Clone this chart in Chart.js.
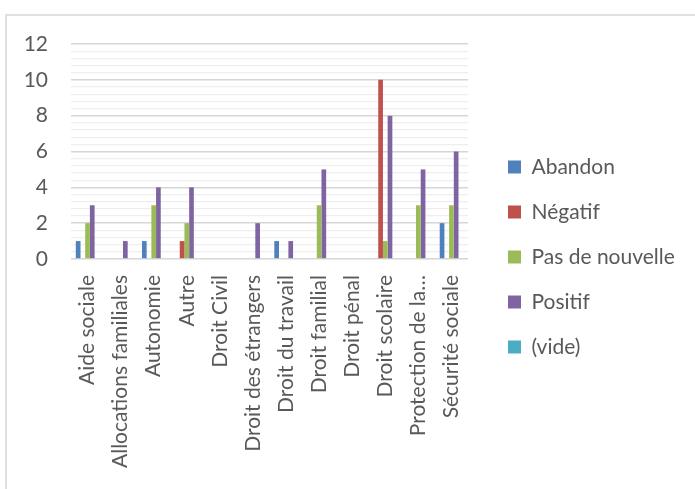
<!DOCTYPE html>
<html>
<head>
<meta charset="utf-8">
<script src="https://cdn.jsdelivr.net/npm/chart.js@4/dist/chart.umd.min.js"></script>
<style>
  html, body { margin: 0; padding: 0; background: #fff; overflow: hidden; }
  #frame { position: absolute; left: 5px; top: 14px; width: 720px; height: 520px; border: 2px solid #e0e0e0; box-sizing: border-box; }
  #wrap { position: absolute; left: 0; top: 0; width: 695px; height: 489px; }
</style>
</head>
<body>
<div id="frame"></div>
<div id="wrap"><canvas id="chart"></canvas></div>
<script>
// Categories and counts per outcome
const categories = [
    'Aide sociale', 'Allocations familiales', 'Autonomie', 'Autre', 'Droit Civil',
    'Droit des étrangers', 'Droit du travail', 'Droit familial', 'Droit pénal',
    'Droit scolaire', 'Protection de la…', 'Sécurité sociale'
];
const abandon       = [1, 0, 1, 0, 0, 0, 1, 0, 0, 0, 0, 2];
const negatif       = [0, 0, 0, 1, 0, 0, 0, 0, 0, 10, 0, 0];
const pasDeNouvelle = [2, 0, 3, 2, 0, 0, 0, 3, 0, 1, 3, 3];
const positif       = [3, 1, 4, 4, 0, 2, 1, 5, 0, 8, 5, 6];
const vide          = [0, 0, 0, 0, 0, 0, 0, 0, 0, 0, 0, 0];
const yTicks = [0, 2, 4, 6, 8, 10, 12];

const textColor = '#595959';
const font = { family: 'Lato, sans-serif', size: 21 };

const series = [
    { label: 'Abandon', data: abandon, color: '#4F81BD' },
    { label: 'Négatif', data: negatif, color: '#C0504D' },
    { label: 'Pas de nouvelle', data: pasDeNouvelle, color: '#9BBB59' },
    { label: 'Positif', data: positif, color: '#8064A2' },
    { label: '(vide)', data: vide, color: '#4BACC6' }
];

const isMajor = v => yTicks.includes(Math.round(v * 10) / 10);

// Layout numbers (px)
const canvasWidth = 695;
const plotLeft = 71;
const legendLeft = 484;
const legendGap = 16;
const legendBox = 13;
const legendPad = 24;
const leftSpill = 200; // lets the legend have its full width

// legend width as Chart.js computes it for a side legend:
// padding + box + half font + text, plus 10
const meas = document.createElement('canvas').getContext('2d');
meas.font = `${font.size}px ${font.family}`;
const legendText = Math.max(...series.map(s => meas.measureText(s.label).width));
const legendWidth = legendPad + legendBox + font.size / 2 + legendText + 10;

const ctx = document.getElementById('chart').getContext('2d');
const chart = new Chart(ctx, {
    type: 'bar',
    data: {
        labels: categories,
        datasets: series.map(s => ({
            label: s.label,
            data: s.data,
            backgroundColor: s.color,
            borderWidth: 0,
            categoryPercentage: 0.71,
            barPercentage: 1
        }))
    },
    options: {
        responsive: true,
        maintainAspectRatio: false,
        animation: false,
        layout: {
            padding: {
                top: 44,
                bottom: 19,
                left: -leftSpill,
                right: canvasWidth - legendLeft - legendWidth
            }
        },
        plugins: {
            legend: {
                position: 'right',
                labels: {
                    boxWidth: legendBox,
                    boxHeight: legendBox,
                    padding: legendPad,
                    color: textColor,
                    font: font
                }
            },
            tooltip: { enabled: false }
        },
        scales: {
            x: {
                grid: { display: false, drawTicks: false },
                border: { display: false },
                ticks: {
                    color: textColor,
                    font: font,
                    autoSkip: false,
                    maxRotation: 90,
                    minRotation: 90,
                    padding: 16
                },
                afterFit: s => { s.height = 211; }
            },
            y: {
                min: 0,
                max: 12,
                border: { display: false },
                grid: {
                    drawTicks: false,
                    color: c => isMajor(c.tick.value) ? '#d6d6d6' : '#eeeeee',
                    lineWidth: c => isMajor(c.tick.value) ? 1.6 : 1.2
                },
                ticks: {
                    stepSize: 0.4,
                    autoSkip: false,
                    padding: 23,
                    color: textColor,
                    font: font,
                    callback: v => isMajor(v) ? Math.round(v) : ''
                },
                afterFit: s => { s.width = plotLeft + leftSpill; }
            },
            // empty spacer between plot and legend
            gap: {
                position: 'right',
                display: false,
                afterFit: s => { s.width = legendGap; }
            }
        }
    }
});
</script>
</body>
</html>
